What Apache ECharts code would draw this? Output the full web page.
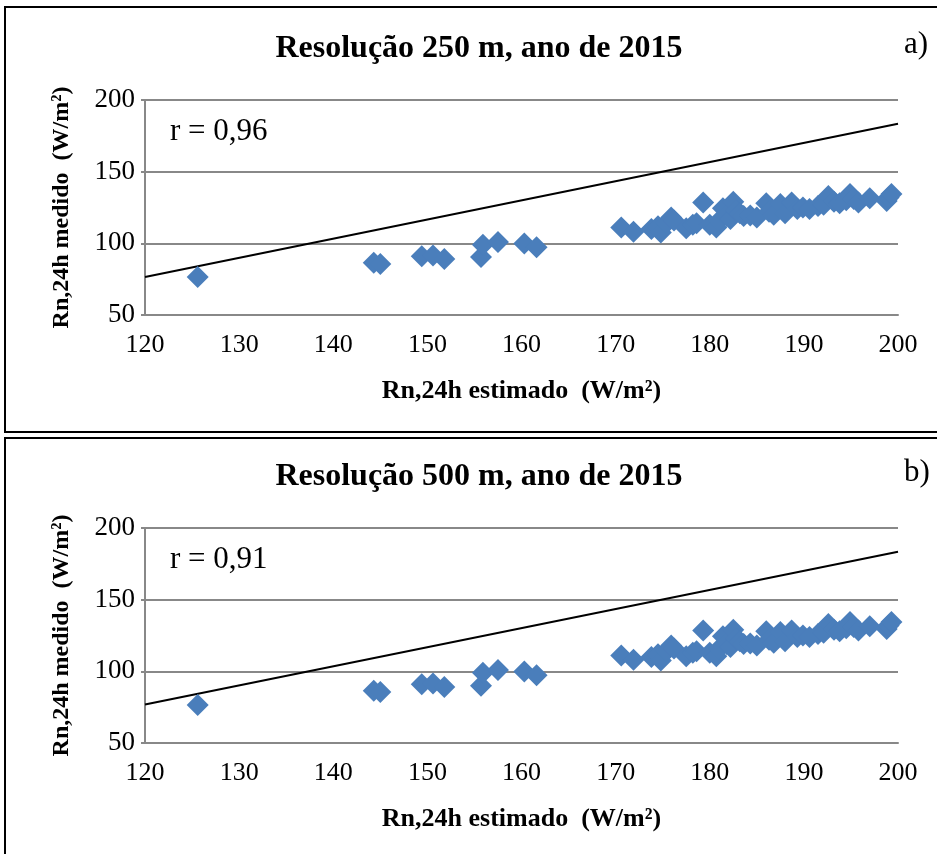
<!DOCTYPE html>
<html>
<head>
<meta charset="utf-8">
<script src="https://cdn.jsdelivr.net/npm/echarts@6/dist/echarts.min.js"></script>
<style>
html,body{margin:0;padding:0;background:#fff;}
#chart{width:937px;height:854px;}
</style>
</head>
<body>
<div id="chart"></div>
<script>
// ---- data ----
const titles = ['Resolução 250 m, ano de 2015', 'Resolução 500 m, ano de 2015'];
const panelLabels = ['a)', 'b)'];
const rLabels = ['r = 0,96', 'r = 0,91'];
const xAxisName = 'Rn,24h estimado  (W/m²)';
const yAxisName = 'Rn,24h medido  (W/m²)';
const xTicks = [120, 130, 140, 150, 160, 170, 180, 190, 200];
const yTicks = [50, 100, 150, 200];

const estimado250 = [125.6,144.3,145.0,149.4,150.6,151.8,155.7,155.9,157.5,160.3,161.6,170.6,171.9,173.8,174.5,174.8,175.4,175.9,176.2,177.5,178.2,178.6,179.3,180.0,180.7,181.0,181.4,181.8,182.2,182.5,182.8,183.2,183.6,184.3,185.0,186.0,186.3,186.8,187.5,188.0,188.7,189.3,189.9,190.6,191.5,192.1,192.6,193.2,193.8,194.5,194.9,195.3,195.8,197.0,198.8,199.0,199.3];
const medido250   = [76.5,86.5,85.5,91.0,91.5,89.0,90.5,99.0,101.0,99.8,97.2,111.0,108.0,110.0,112.0,107.5,114.0,118.0,116.0,110.5,113.0,114.0,128.5,113.0,111.0,116.0,124.5,119.0,117.0,129.0,123.0,121.0,119.0,119.5,118.0,128.0,122.0,120.0,127.5,121.0,128.5,124.0,125.0,124.0,126.0,127.0,133.0,129.0,128.0,130.0,134.5,131.0,128.5,131.5,129.5,132.0,134.5];

const estimado500 = [125.6,144.3,145.0,149.4,150.6,151.8,155.7,155.9,157.5,160.3,161.6,170.6,171.9,173.8,174.5,174.8,175.4,175.9,176.2,177.5,178.2,178.6,179.3,180.0,180.7,181.0,181.4,181.8,182.2,182.5,182.8,183.2,183.6,184.3,185.0,186.0,186.3,186.8,187.5,188.0,188.7,189.3,189.9,190.6,191.5,192.1,192.6,193.2,193.8,194.5,194.9,195.3,195.8,197.0,198.8,199.0,199.3];
const medido500   = [76.5,86.5,85.5,91.0,91.5,89.0,90.0,99.0,101.0,99.8,97.2,111.0,108.0,110.0,112.0,107.5,114.0,118.0,116.0,110.5,113.0,114.0,128.5,113.0,110.5,116.0,124.5,119.0,117.0,129.0,123.0,121.0,119.0,119.5,118.0,128.0,122.0,120.0,127.5,121.0,128.5,124.0,125.0,124.0,126.0,127.0,133.0,129.0,128.0,130.0,134.5,131.0,128.5,131.5,129.5,132.0,134.5];

const lineX = [120, 200];
const lineY250 = [76.5, 183.5];
const lineY500 = [76.8, 183.5];

// ---- chart ----
const serif = "'Liberation Serif','Times New Roman',serif";
const pts = (xs, ys) => xs.map((x, i) => [x, ys[i]]);
const chart = echarts.init(document.getElementById('chart'), null, {renderer: 'canvas'});

const gridTops = [100, 528];
const offsets = [0, 428];

function xAxis(i) {
  return {
    type: 'value', gridIndex: i, min: xTicks[0], max: xTicks[xTicks.length - 1], interval: 10,
    axisLine: {show: true, onZero: false, lineStyle: {color: '#888', width: 2}},
    axisTick: {show: false},
    splitLine: {show: false},
    axisLabel: {color: '#000', fontFamily: serif, fontSize: 26, margin: 17},
    name: xAxisName, nameLocation: 'middle', nameGap: 63,
    nameTextStyle: {color: '#000', fontFamily: serif, fontSize: 26, fontWeight: 'bold'}
  };
}
function yAxis(i) {
  return {
    type: 'value', gridIndex: i, min: yTicks[0], max: yTicks[yTicks.length - 1], interval: 50,
    axisLine: {show: true, onZero: false, lineStyle: {color: '#888', width: 2}},
    axisTick: {show: true, length: 4, lineStyle: {color: '#888', width: 2}},
    splitLine: {show: true, lineStyle: {color: '#888', width: 2}},
    axisLabel: {color: '#000', fontFamily: serif, fontSize: 27, margin: 10},
    name: yAxisName, nameLocation: 'middle', nameGap: 71, nameRotate: 90,
    nameTextStyle: {color: '#000', fontFamily: serif, fontSize: 24, fontWeight: 'bold'}
  };
}

const graphics = [];
[0, 1].forEach(i => {
  const o = offsets[i];
  graphics.push({type: 'rect', shape: {x: 5, y: i === 0 ? 7 : 438, width: 945, height: i === 0 ? 425 : 440},
    style: {fill: 'none', stroke: '#000', lineWidth: 2}, silent: true});
  graphics.push({type: 'text', x: 479, y: 49 + o,
    style: {text: titles[i], font: "bold 32px " + serif, fill: '#000', align: 'center', verticalAlign: 'middle'}});
  graphics.push({type: 'text', x: 904, y: 45 + o,
    style: {text: panelLabels[i], font: "31px " + serif, fill: '#000', align: 'left', verticalAlign: 'middle'}});
  graphics.push({type: 'text', x: 170, y: 132 + o,
    style: {text: rLabels[i], font: "31px " + serif, fill: '#000', align: 'left', verticalAlign: 'middle'}});
});

const option = {
  backgroundColor: '#fff',
  animation: false,
  grid: gridTops.map(t => ({left: 145, top: t, width: 753, height: 215, containLabel: false})),
  xAxis: [xAxis(0), xAxis(1)],
  yAxis: [yAxis(0), yAxis(1)],
  graphic: graphics,
  series: [
    {type: 'line', xAxisIndex: 0, yAxisIndex: 0, data: pts(lineX, lineY250), symbol: 'none',
      lineStyle: {color: '#000', width: 2}, z: 3},
    {type: 'scatter', xAxisIndex: 0, yAxisIndex: 0, data: pts(estimado250, medido250),
      symbol: 'diamond', symbolSize: 22, itemStyle: {color: '#4a7ebb', opacity: 1}, z: 4},
    {type: 'line', xAxisIndex: 1, yAxisIndex: 1, data: pts(lineX, lineY500), symbol: 'none',
      lineStyle: {color: '#000', width: 2}, z: 3},
    {type: 'scatter', xAxisIndex: 1, yAxisIndex: 1, data: pts(estimado500, medido500),
      symbol: 'diamond', symbolSize: 22, itemStyle: {color: '#4a7ebb', opacity: 1}, z: 4}
  ]
};
chart.setOption(option);
</script>
</body>
</html>
